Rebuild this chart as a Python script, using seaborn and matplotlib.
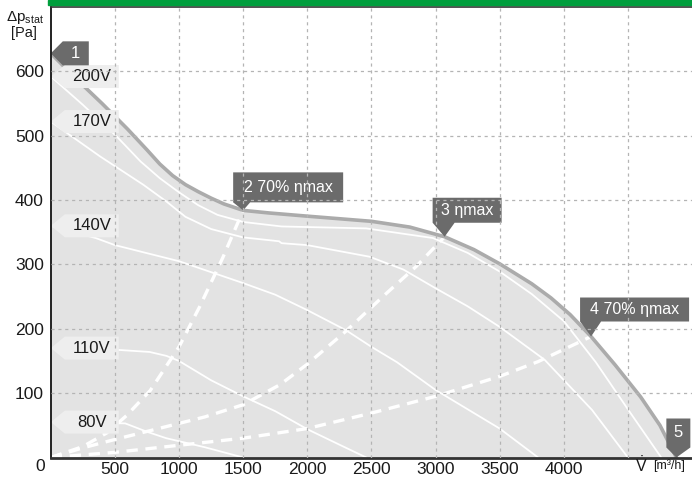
import numpy as np
import pandas as pd
import seaborn as sns
import matplotlib
matplotlib.use("Agg")
import matplotlib.pyplot as plt
import matplotlib.transforms as mtransforms
from matplotlib.patches import Polygon, Rectangle

# fan curve at max speed, points 1..5 lie on it
max_q = [0, 200, 400, 600, 750, 850, 950, 1050, 1150, 1250, 1350, 1500, 1700, 2000, 2500, 2800, 3071,
         3300, 3500, 3750, 3900, 4050, 4213, 4400, 4600, 4750, 4878]
max_p = [628, 588, 550, 510, 478, 456, 438, 424, 413, 403, 394, 384, 380, 375, 367, 358, 343,
         323, 301, 270, 248, 222, 188, 144, 94, 50, 0]

# curves at reduced voltage
v200_q = [0, 250, 513, 700, 850, 1000, 1150, 1300, 1500, 1800, 2460, 2980, 3250, 3500, 3750, 4000, 4250, 4500, 4760]
v200_p = [592, 548, 499, 460, 434, 412, 392, 377, 366, 359, 356, 341, 318, 289, 254, 212, 148, 75, 0]
v170_q = [0, 383, 720, 900, 1050, 1250, 1500, 1780, 1800, 2000, 2485, 2750, 3000, 3250, 3500, 3850, 4220, 4500]
v170_p = [522, 468, 424, 398, 374, 355, 342, 336, 333, 330, 312, 292, 263, 235, 203, 152, 74, 0]
v140_q = [0, 350, 500, 1000, 1500, 1750, 2000, 2300, 2500, 2700, 3000, 3250, 3500, 3800]
v140_p = [360, 341, 330, 305, 271, 253, 229, 198, 172, 148, 105, 75, 45, 0]
v110_q = [0, 540, 770, 900, 1000, 1250, 1500, 1750, 2000, 2250, 2460]
v110_p = [170, 167, 164, 158, 150, 120, 95, 72, 44, 20, 0]
v80_q = [0, 580, 750, 900, 1200, 1500]
v80_p = [55, 53, 40, 30, 16, 0]
volt_labels = ["200V", "170V", "140V", "110V", "80V"]

# efficiency lines (system curves through points 2, 3, 4)
eta2_q = [0, 250, 435, 590, 775, 1000, 1160, 1340, 1500]
eta2_p = [0, 17, 38, 65, 104, 172, 234, 310, 384]
eta3_q = [0, 250, 500, 900, 1200, 1500, 1786, 2000, 2300, 2600, 2850, 3071]
eta3_p = [0, 15, 28, 48, 63, 82, 113, 145, 196, 252, 297, 343]
eta4_q = [0, 500, 1000, 1500, 2000, 2500, 3000, 3500, 3800, 4213]
eta4_p = [0, 8, 19, 30, 45, 69, 95, 126, 149, 188]

point_labels = ["1", "2 70% \u03b7max", "3 \u03b7max", "4 70% \u03b7max", "5"]
x_ticks = [500, 1000, 1500, 2000, 2500, 3000, 3500, 4000, 4500]
x_ticklabels = ["500", "1000", "1500", "2000", "2500", "3000", "3500", "4000", ""]
y_ticks = [100, 200, 300, 400, 500, 600]

sns.set_style("white")
plt.rcParams['font.family'] = ['Liberation Sans', 'DejaVu Sans']
plt.rcParams['mathtext.fontset'] = 'custom'
plt.rcParams['mathtext.rm'] = 'Liberation Sans'
plt.rcParams['mathtext.it'] = 'Liberation Sans:italic'

W, H = 692, 486
fig = plt.figure(figsize=(W / 100, H / 100), dpi=100)
ax = fig.add_axes([50.8 / W, 28.5 / H, 1 - 50.8 / W, 450.5 / H])

ax.fill_between(max_q, max_p, 0, color='#e3e3e3', lw=0, zorder=1)

volts = [(v200_q, v200_p), (v170_q, v170_p), (v140_q, v140_p), (v110_q, v110_p), (v80_q, v80_p)]
for q, p in volts:
    sns.lineplot(x=q, y=p, sort=False, color='white', lw=1.3, ax=ax, zorder=2)

for q, p in [(eta2_q, eta2_p), (eta3_q, eta3_p), (eta4_q, eta4_p)]:
    sns.lineplot(x=q, y=p, sort=False, color='white', lw=2.4, linestyle=(0, (3.4, 2.3)), ax=ax, zorder=2)

sns.lineplot(x=max_q, y=max_p, sort=False, color='#ababab', lw=2.6, ax=ax, zorder=2.1)

ax.set_xlim(0, 5000)
ax.set_ylim(0, 700)
ax.set_xticks(x_ticks)
ax.set_xticklabels(x_ticklabels)
ax.set_yticks(y_ticks)
ax.tick_params(length=0, labelsize=12.5, colors='#1a1a1a')
ax.tick_params(axis='y', pad=5)
ax.tick_params(axis='x', pad=3)
ax.set_xlabel("")
ax.set_ylabel("")
ax.set_axisbelow(False)
ax.grid(True, color='#b4b4b4', lw=0.9, linestyle=(0, (2.5, 3)))

for s in ['left', 'bottom', 'top']:
    ax.spines[s].set_visible(True)
ax.spines['right'].set_visible(False)
ax.spines['left'].set_color('#222222')
ax.spines['left'].set_linewidth(1.4)
ax.spines['bottom'].set_color('#333333')
ax.spines['bottom'].set_linewidth(2)
ax.spines['top'].set_color('#333333')
ax.spines['top'].set_linewidth(1.2)


def tag(x, y, verts, fc, text, tx, ty, tc, size=12):
    tr = fig.dpi_scale_trans + mtransforms.ScaledTranslation(x, y, ax.transData)
    ax.add_patch(Polygon(np.array(verts) / 100.0, closed=True, transform=tr,
                         fc=fc, ec='none', zorder=2.2, clip_on=False))
    ax.text(tx / 100.0, ty / 100.0, text, transform=tr, color=tc, fontsize=size,
            ha='center', va='center', zorder=2.3, clip_on=False)


# voltage labels at the left axis
for (q, p), lab in zip(volts, volt_labels):
    tag(q[0], p[0], [(0, 0), (14, 11.5), (68, 11.5), (68, -11.5), (14, -11.5)],
        '#eeeeee', lab, 41, 0, '#1a1a1a')

dark = '#6b6b6b'
tag(max_q[0], max_p[0], [(0, 0), (12, 12), (38, 12), (38, -12), (12, -12)],
    dark, point_labels[0], 25, 0, 'white')
tag(eta2_q[-1], eta2_p[-1], [(0, 0), (7, 8), (100, 8), (100, 38), (-10, 38), (-10, 8)],
    dark, point_labels[1], 45, 23, 'white', 11.5)
tag(eta3_q[-1], eta3_p[-1], [(0, 0), (10, 14), (57, 14), (57, 39), (-12, 39), (-12, 14)],
    dark, point_labels[2], 22.5, 26.5, 'white', 11.5)
tag(eta4_q[-1], eta4_p[-1], [(0, 0), (10, 15), (98, 15), (98, 39), (-11, 39), (-11, 15)],
    dark, point_labels[3], 43.5, 27, 'white', 11.5)
tag(max_q[-1], max_p[-1], [(0, 0), (14, 10), (14, 39), (-10, 39), (-10, 10)],
    dark, point_labels[4], 2, 25, 'white')

# green band on top
fig.patches.append(Rectangle((48 / W, 1 - 5 / H), 1, 5 / H, transform=fig.transFigure,
                             color='#009e3d', zorder=0))

# axis titles
fig.text(25 / W, 1 - 18 / H, r'$\Delta\mathrm{p}_{\mathrm{stat}}$', fontsize=11,
         ha='center', va='center', color='#1a1a1a')
fig.text(24 / W, 1 - 33 / H, '[Pa]', fontsize=10.5, ha='center', va='center', color='#1a1a1a')
fig.text(40 / W, 1 - 466 / H, '0', fontsize=12.5, ha='center', va='center', color='#1a1a1a')
fig.text(641 / W, 1 - 465 / H, r'$\dot{\mathrm{V}}$', fontsize=11.5, ha='center', va='center', color='#1a1a1a')
fig.text(669 / W, 1 - 466 / H, '[m\u00b3/h]', fontsize=9, ha='center', va='center', color='#1a1a1a')

fig.savefig('out.png', dpi=100)
